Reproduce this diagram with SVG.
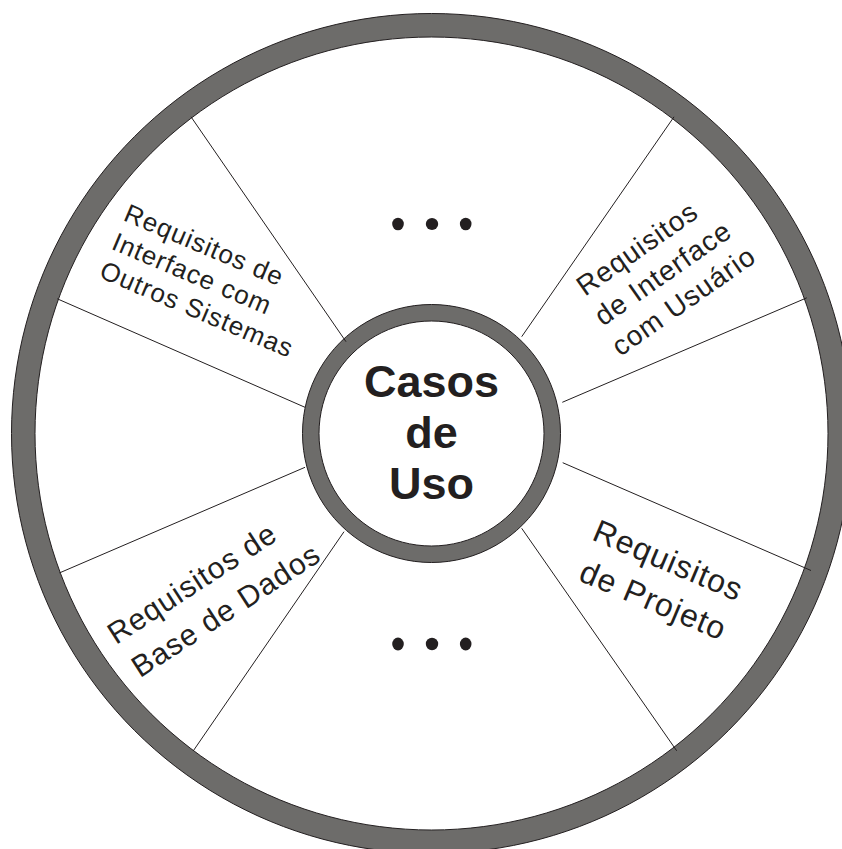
<svg xmlns="http://www.w3.org/2000/svg" width="842" height="849" viewBox="0 0 842 849">
<style>
.ring{fill:#6d6c6a;stroke:#231f20;stroke-width:1;fill-rule:evenodd}
.div{stroke:#231f20;stroke-width:1;fill:none}
.lbl{font-family:"Liberation Sans",Arial,sans-serif;fill:#231f20;letter-spacing:1px}
.center{font-family:"Liberation Sans",Arial,sans-serif;font-weight:bold;font-size:45px;fill:#231f20;text-anchor:middle}
.dot{fill:#231f20}
</style>
<rect width="842" height="849" fill="#ffffff"/>
<g id="outer-ring">
<path class="ring" d="M431.5,13.5 a420,420 0 1,0 0.01,0 Z M431.5,37 a396.5,396.5 0 1,0 0.01,0 Z"/>
</g>
<g id="inner-ring">
<path class="ring" d="M431.5,304.5 a129,129 0 1,0 0.01,0 Z M431.5,321 a112.5,112.5 0 1,0 0.01,0 Z"/>
</g>
<g id="connectors">
<line class="div" x1="191" y1="116.8" x2="346" y2="341.7"/>
<line class="div" x1="57.3" y1="298.8" x2="305" y2="407.3"/>
<line class="div" x1="59.5" y1="572.9" x2="305" y2="467.3"/>
<line class="div" x1="193.3" y1="750.8" x2="344" y2="531.7"/>
<line class="div" x1="674" y1="116.8" x2="521.7" y2="336.7"/>
<line class="div" x1="806.8" y1="297.8" x2="562.3" y2="402.3"/>
<line class="div" x1="811" y1="570.5" x2="562.7" y2="462.7"/>
<line class="div" x1="676.7" y1="750.8" x2="521.7" y2="528.3"/>
</g>
<g id="casos-de-uso">
<text class="center"><tspan x="431.5" y="397">Casos</tspan><tspan x="431.5" y="448">de</tspan><tspan x="431.5" y="499">Uso</tspan></text>
</g>
<g id="top-dots">
<ellipse class="dot" cx="398" cy="224" rx="5.8" ry="6.3"/>
<ellipse class="dot" cx="432" cy="224" rx="6.2" ry="6"/>
<ellipse class="dot" cx="465.7" cy="224" rx="5.8" ry="6.3"/>
</g>
<g id="bottom-dots">
<ellipse class="dot" cx="398" cy="644" rx="5.8" ry="6.5"/>
<ellipse class="dot" cx="432" cy="644" rx="6.2" ry="6.2"/>
<ellipse class="dot" cx="465.7" cy="644" rx="5.8" ry="6.5"/>
</g>
<g id="interface-outros-sistemas">
<text class="lbl" font-size="26" transform="translate(122.3,220) rotate(23)"><tspan x="0" y="0">Requisitos de</tspan><tspan x="0" y="31">Interface com</tspan><tspan x="0" y="62">Outros Sistemas</tspan></text>
</g>
<g id="interface-usuario">
<text class="lbl" font-size="28" transform="translate(585,296.7) rotate(-35)"><tspan x="0" y="0">Requisitos</tspan><tspan x="-2.6" y="35">de Interface</tspan><tspan x="-5.7" y="69.5">com Usuário</tspan></text>
</g>
<g id="base-de-dados">
<text class="lbl" font-size="30" transform="translate(116,645) rotate(-33)"><tspan x="0" y="0">Requisitos de</tspan><tspan x="2" y="41">Base de Dados</tspan></text>
</g>
<g id="projeto">
<text class="lbl" font-size="32" transform="translate(590.7,539.3) rotate(23)"><tspan x="0" y="0">Requisitos</tspan><tspan x="3.6" y="42.6">de Projeto</tspan></text>
</g>
</svg>
